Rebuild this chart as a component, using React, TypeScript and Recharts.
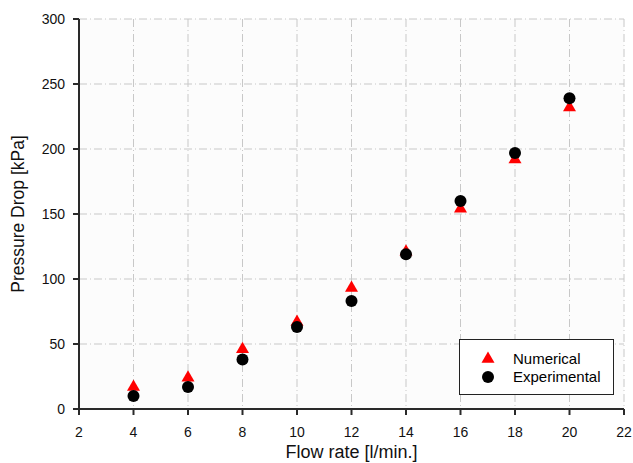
import React from "react";
import {
  ScatterChart,
  Scatter,
  XAxis,
  YAxis,
  CartesianGrid,
  Label,
} from "recharts";

// flow rate [l/min.]
const flowRates = [4, 6, 8, 10, 12, 14, 16, 18, 20];
// pressure drop [kPa]
const numerical = [17, 24, 46, 67, 93, 121, 154, 192, 232];
const experimental = [10, 17, 38, 63, 83, 119, 160, 197, 239];

const xTicks = [2, 4, 6, 8, 10, 12, 14, 16, 18, 20, 22];
const yTicks = [0, 50, 100, 150, 200, 250, 300];

const numericalData = flowRates.map((x, i) => ({ x, y: numerical[i] }));
const experimentalData = flowRates.map((x, i) => ({ x, y: experimental[i] }));

const FONT = "'Liberation Sans', Arial, sans-serif";
const AXIS = "#2a2a2a";

const Triangle = (props: any) => {
  const { cx, cy } = props;
  const s = 13;
  const h = (s * Math.sqrt(3)) / 2;
  const pts = `${cx},${cy - (2 * h) / 3} ${cx - s / 2},${cy + h / 3} ${cx + s / 2},${cy + h / 3}`;
  return <polygon points={pts} fill="#ff0000" />;
};

const Dot = (props: any) => {
  const { cx, cy } = props;
  return <circle cx={cx} cy={cy} r={6} fill="#000" />;
};

const LegendBox = () => (
  <div
    style={{
      position: "absolute",
      left: 459,
      top: 339,
      border: "1.5px solid #222",
      background: "#fff",
      width: 155,
      height: 56,
      boxSizing: "border-box",
      fontFamily: FONT,
      fontSize: 15,
      color: "#000",
      paddingTop: 9,
    }}
  >
    <div style={{ display: "flex", alignItems: "center", height: 18 }}>
      <svg width={53} height={16}>
        <Triangle cx={28} cy={9} />
      </svg>
      <span>Numerical</span>
    </div>
    <div style={{ display: "flex", alignItems: "center", height: 19 }}>
      <svg width={53} height={16}>
        <circle cx={28} cy={8} r={6} fill="#000" />
      </svg>
      <span>Experimental</span>
    </div>
  </div>
);

const YTitle = (props: any) => {
  const { viewBox } = props;
  const x = viewBox.x + 18;
  const y = viewBox.y + viewBox.height / 2;
  return (
    <text
      x={x}
      y={y}
      transform={`rotate(-90 ${x} ${y})`}
      textAnchor="middle"
      dominantBaseline="central"
      fontFamily={FONT}
      fontSize={17.5}
      fill="#111"
    >
      Pressure Drop [kPa]
    </text>
  );
};

const App: React.FC = () => {
  const tickStyle = { fontFamily: FONT, fontSize: 14, fill: "#111" };
  return (
    <div style={{ position: "absolute", left: 0, top: 0, background: "#fff" }}>
      <ScatterChart
        width={633}
        height={463}
        margin={{ top: 19, right: 9, left: 0, bottom: 0 }}
      >
        <CartesianGrid
          stroke="#c8c8c8"
          strokeDasharray="8 3 1 3"
          fill="#fcfcfc"
        />
        <XAxis
          type="number"
          dataKey="x"
          domain={[2, 22]}
          ticks={xTicks}
          interval={0}
          height={54}
          tickSize={6}
          tickMargin={12}
          tick={tickStyle}
          stroke={AXIS}
          strokeWidth={2}
        >
          <Label
            value="Flow rate [l/min.]"
            position="insideBottom"
            offset={5}
            style={{ fontFamily: FONT, fontSize: 18, fill: "#111" }}
          />
        </XAxis>
        <XAxis
          xAxisId="top"
          orientation="top"
          type="number"
          domain={[2, 22]}
          height={0}
          tick={false}
          tickLine={false}
          stroke={AXIS}
          strokeWidth={2}
        />
        <YAxis
          type="number"
          dataKey="y"
          domain={[0, 300]}
          ticks={yTicks}
          interval={0}
          width={79}
          tickSize={6}
          tickMargin={8}
          tick={tickStyle}
          stroke={AXIS}
          strokeWidth={2}
        >
          <Label content={<YTitle />} />
        </YAxis>
        <YAxis
          yAxisId="right"
          orientation="right"
          type="number"
          domain={[0, 300]}
          width={0}
          tick={false}
          tickLine={false}
          stroke={AXIS}
          strokeWidth={2}
        />
        <Scatter
          name="Numerical"
          data={numericalData}
          shape={<Triangle />}
          isAnimationActive={false}
        />
        <Scatter
          name="Experimental"
          data={experimentalData}
          shape={<Dot />}
          isAnimationActive={false}
        />
      </ScatterChart>
      <LegendBox />
    </div>
  );
};

export default App;
